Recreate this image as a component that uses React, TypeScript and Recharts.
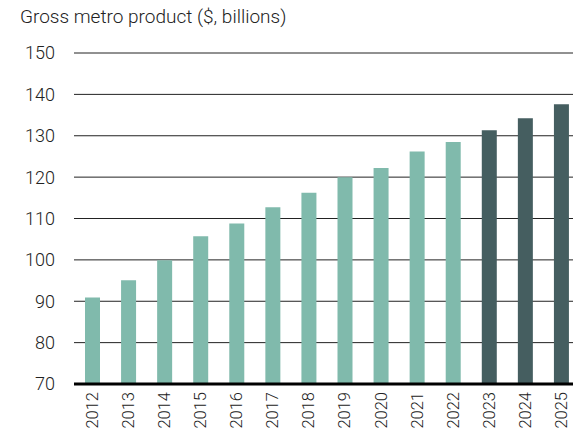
import { Bar, BarChart, CartesianGrid, Cell, XAxis, YAxis } from "recharts";

const YEARS = ["2012", "2013", "2014", "2015", "2016", "2017", "2018", "2019", "2020", "2021", "2022", "2023", "2024", "2025"];
const GMP = [90.9, 95.1, 99.9, 105.7, 108.8, 112.7, 116.2, 120.0, 122.2, 126.2, 128.5, 131.3, 134.2, 137.6];
const FORECAST_FROM = "2023";
const Y_TICKS = [70, 80, 90, 100, 110, 120, 130, 140, 150];

const ACTUAL = "#80baac";
const PROJECTED = "#455e60";
const FONT = "Roboto, 'Noto Sans', sans-serif";

const data = YEARS.map((year, i) => ({ year, value: GMP[i] }));

function YearTick({ x, y, payload }: any) {
  return (
    <text
      x={x}
      y={y}
      transform={`rotate(-90 ${x} ${y})`}
      textAnchor="end"
      dy="0.36em"
      fontSize={16.5}
      fontWeight={300}
      fontFamily={FONT}
      fill="#222"
    >
      {payload.value}
    </text>
  );
}

export default function App() {
  return (
    <div style={{ position: "absolute", left: 0, top: 0, width: 573, height: 439, overflow: "hidden", background: "#fff" }}>
      <div
        style={{
          position: "absolute",
          left: 20,
          top: 5,
          fontFamily: FONT,
          fontWeight: 300,
          fontSize: 19,
          color: "#222",
          whiteSpace: "nowrap",
        }}
      >
        Gross metro product ($, billions)
      </div>
      <BarChart width={579} height={439} data={data} margin={{ top: 53, right: 0, bottom: 0, left: 0 }}>
        <CartesianGrid vertical={false} stroke="#222" strokeWidth={1} />
        <XAxis
          dataKey="year"
          height={55}
          interval={0}
          tickLine={false}
          axisLine={{ stroke: "#000", strokeWidth: 3 }}
          tick={<YearTick />}
        />
        <YAxis
          domain={[70, 150]}
          ticks={Y_TICKS}
          interval={0}
          width={74}
          axisLine={false}
          tickLine={false}
          tickSize={0}
          tickMargin={19}
          tick={{ fontSize: 18, fontWeight: 300, fontFamily: FONT, fill: "#222" }}
        />
        <Bar dataKey="value" barSize={15} isAnimationActive={false}>
          {data.map((d) => (
            <Cell key={d.year} fill={d.year >= FORECAST_FROM ? PROJECTED : ACTUAL} />
          ))}
        </Bar>
      </BarChart>
    </div>
  );
}
